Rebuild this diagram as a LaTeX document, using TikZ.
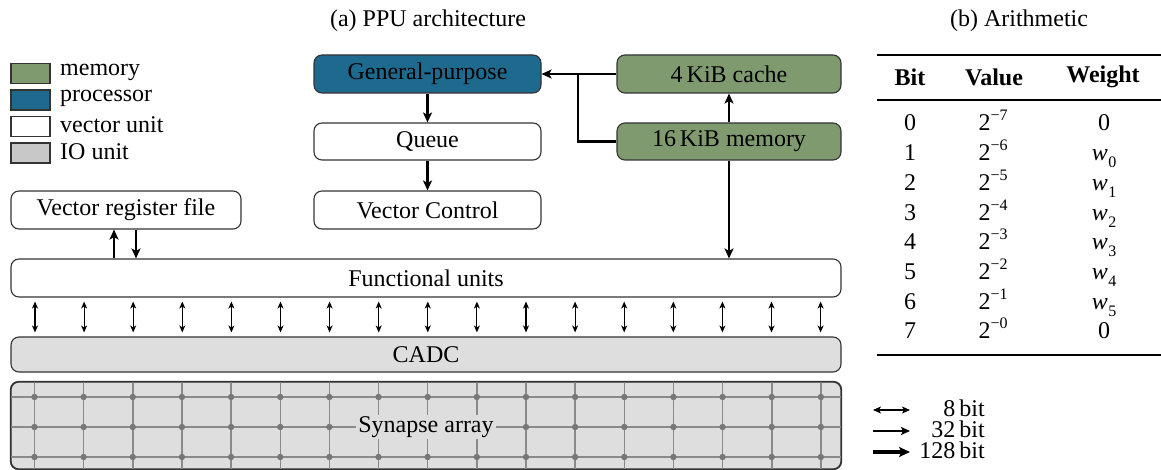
\documentclass[tikz,border=0pt]{standalone}
\usepackage{fontspec}
\setmainfont{Liberation Serif}
\usetikzlibrary{arrows.meta}
\definecolor{memgreen}{HTML}{7F9A6E}
\definecolor{procblue}{HTML}{1D6A8E}
\definecolor{iogray}{HTML}{DEDEDE}
\definecolor{iolegend}{HTML}{C8C8C8}
\definecolor{edgec}{HTML}{333333}
\definecolor{gridc}{HTML}{8A8A8A}
\definecolor{dotc}{HTML}{777777}
\newcommand\wsub[1]{\textit{w}\kern0.5pt\raisebox{-0.3em}{\fontsize{16}{16}\selectfont #1}}
\newcommand\pexp[1]{2\raisebox{0.42em}{\fontsize{16}{16}\selectfont −#1}}
\begin{document}
\begin{tikzpicture}[x=1pt,y=-1pt,
  font=\rmfamily\fontsize{24}{28}\selectfont,
  box/.style={draw=edgec,line width=1.1pt,rounded corners=8pt,inner sep=0pt,anchor=center},
  membox/.style={box,fill=memgreen},
  procbox/.style={box,fill=procblue},
  vecbox/.style={box,fill=white},
  iobox/.style={box,fill=iogray},
  swatch/.style={draw=edgec,line width=1.1pt,minimum width=39pt,minimum height=20pt,inner sep=0pt},
  lbl/.style={inner sep=0pt,anchor=west},
  conn/.style={line width=2.2pt,-{Stealth[length=10pt,width=9pt,inset=2.5pt]}},
  plain/.style={line width=2.2pt},
  bi/.style={line width=1.1pt,{Stealth[length=7pt,width=6pt,inset=2pt]}-{Stealth[length=7pt,width=6pt,inset=2pt]}},
  cell/.style={inner sep=0pt,anchor=center},
  bitlbl/.style={inner sep=0pt,anchor=east,text height=16pt,text depth=2pt}
]
\useasboundingbox (0,0) rectangle (1161,470);

% titles
\node[cell] (ta) at (428,21) {(a) PPU architecture};
\node[cell] (tb) at (1019,21) {(b) Arithmetic};

% legend
\node[swatch,fill=memgreen] (sw1) at (30.5,73.5) {};
\node[lbl] (lg1) at (60,72) {memory};
\node[swatch,fill=procblue] (sw2) at (30.5,100) {};
\node[lbl] (lg2) at (60,98.5) {processor};
\node[swatch,fill=white] (sw3) at (30.5,126.5) {};
\node[lbl] (lg3) at (60,125) {vector unit};
\node[swatch,fill=iolegend] (sw4) at (30.5,153) {};
\node[lbl] (lg4) at (60,151.5) {IO unit};

% boxes
\node[procbox,minimum width=227pt,minimum height=38pt] (gp) at (427.5,74) {General-purpose};
\node[vecbox,minimum width=227pt,minimum height=37pt] (queue) at (427.5,141.5) {Queue};
\node[vecbox,minimum width=227pt,minimum height=38pt] (vc) at (427.5,210) {Vector Control};
\node[membox,minimum width=224pt,minimum height=38pt] (cache) at (729,74) {4\,KiB cache};
\node[membox,minimum width=224pt,minimum height=37pt] (mem) at (729,141.5) {16\,KiB memory};
\node[vecbox,minimum width=230pt,minimum height=38pt] (vrf) at (126,210) {Vector register file};
\node[vecbox,minimum width=830pt,minimum height=38pt] (fu) at (426,278) {Functional units};
\node[iobox,minimum width=830pt,minimum height=35pt] (cadc) at (426,354.5) {CADC};
\node[iobox,minimum width=830pt,minimum height=87pt] (syn) at (426,425.5) {};

% synapse grid
\begin{scope}
  \clip[rounded corners=8pt] (syn.south west) rectangle (syn.north east);
  \foreach \i in {0,...,16} {
    \pgfmathsetmacro\xx{34.5+49.15*\i}
    \draw[gridc,line width=1.5pt] (\xx,382) -- (\xx,470);
  }
  \foreach \yy in {397,427,457} {
    \draw[gridc,line width=1.5pt] (11,\yy) -- (841,\yy);
    \foreach \i in {0,...,16} {
      \pgfmathsetmacro\xx{34.5+49.15*\i}
      \fill[dotc] (\xx,\yy) circle (3.2pt);
    }
  }
\end{scope}
\draw[draw=edgec,line width=1.1pt,rounded corners=8pt] (syn.south west) rectangle (syn.north east);
\node[cell,fill=iogray,inner xsep=2pt,inner ysep=1pt] (synl) at (426,427) {Synapse array};

% connectors
\coordinate (j) at (578,74);
\draw[conn] (cache.west) -- (gp.east);
\draw[plain] (mem.west) -| (j);
\draw[conn] (mem.north) -- (cache.south);
\draw[conn] (mem.south) -- (mem.south |- fu.north);
\draw[conn] (gp.south) -- (queue.north);
\draw[conn] (queue.south) -- (vc.north);
\draw[conn] (fu.north -| 114,0) -- (vrf.south -| 114,0);
\draw[conn] (vrf.south -| 136,0) -- (fu.north -| 136,0);
\foreach \i in {0,...,16} {
  \pgfmathsetmacro\xx{35+49.1*\i}
  \draw[bi,shorten <=4pt,shorten >=4pt] (fu.south -| \xx,0) -- (cadc.north -| \xx,0);
}

% bit-width legend
\coordinate (a8s) at (873,410); \coordinate (a8e) at (910,410);
\coordinate (a32s) at (873,431); \coordinate (a32e) at (910,431);
\coordinate (a128s) at (873,452); \coordinate (a128e) at (910,452);
\draw[line width=1.1pt,{Stealth[length=8pt,width=7pt,inset=2pt]}-{Stealth[length=8pt,width=7pt,inset=2pt]}] (a8s) -- (a8e);
\draw[line width=2pt,-{Stealth[length=9pt,width=8pt,inset=2pt]}] (a32s) -- (a32e);
\draw[line width=3.6pt,-{Stealth[length=11pt,width=10pt,inset=2.5pt]}] (a128s) -- (a128e);
\node[bitlbl] (b8) at (985,409) {8\,bit};
\node[bitlbl] (b32) at (985,430) {32\,bit};
\node[bitlbl] (b128) at (985,451) {128\,bit};

% table
\draw[line width=2.5pt] (877,55) -- (1161,55);
\draw[line width=1.5pt] (877,100) -- (1161,100);
\draw[line width=2.5pt] (877,355) -- (1161,355);
\node[cell] (hbit) at (910,77) {\textbf{Bit}};
\node[cell] (hval) at (994,77) {\textbf{Value}};
\node[cell] (hwt) at (1103,77) {\textbf{Weight}};
\foreach \i/\w in {0/0,1/\wsub{0},2/\wsub{1},3/\wsub{2},4/\wsub{3},5/\wsub{4},6/\wsub{5},7/0} {
  \pgfmathsetmacro\yy{123+29.7*\i}
  \pgfmathtruncatemacro\ee{7-\i}
  \node[inner sep=0pt,anchor=base] (bit\i) at (910,\yy+8) {\i};
  \node[inner sep=0pt,anchor=base] (val\i) at (993,\yy+8) {\pexp{\ee}};
  \node[inner sep=0pt,anchor=base] (wt\i) at (1104,\yy+8) {\w};
}
\end{tikzpicture}
\end{document}
